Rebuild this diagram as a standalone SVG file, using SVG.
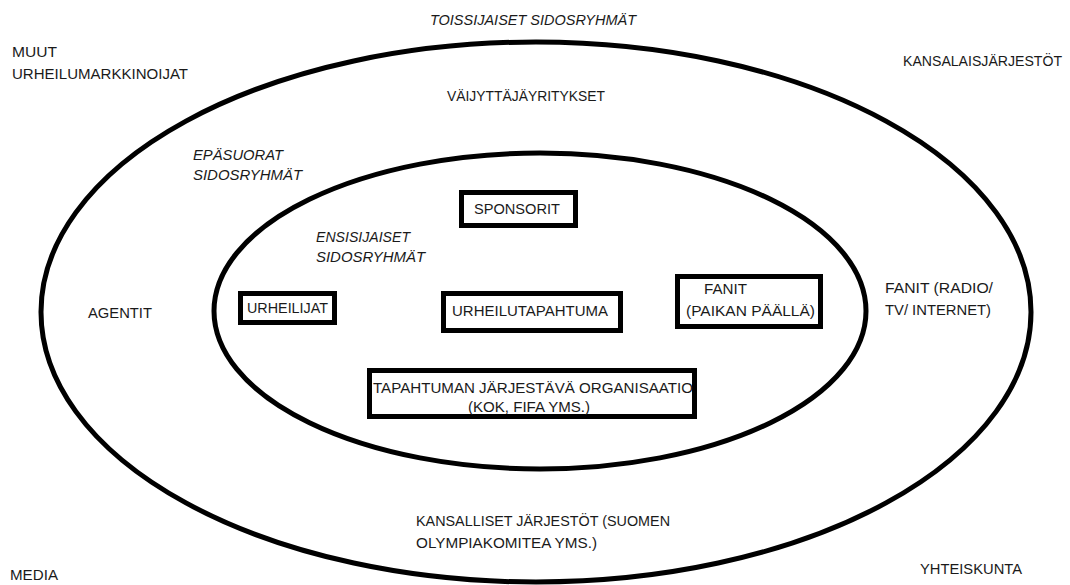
<svg xmlns="http://www.w3.org/2000/svg" width="1070" height="585" viewBox="0 0 1070 585">
<style>
text{font-family:"Liberation Sans",Arial,sans-serif;font-size:15px;fill:#1a1a1a}
.it{font-style:italic}
.ring{fill:none;stroke:#000;stroke-width:5}
.box{fill:#fff;stroke:#000;stroke-width:5}
</style>
<rect width="1070" height="585" fill="#fff"/>
<g id="outer-ring"><ellipse class="ring" cx="536" cy="312" rx="495" ry="270"/></g>
<g id="inner-ring"><ellipse class="ring" cx="540" cy="311" rx="326" ry="158"/></g>
<g id="connectors"></g>
<g id="toissijaiset"><text class="it" x="430" y="25" textLength="206" lengthAdjust="spacingAndGlyphs">TOISSIJAISET SIDOSRYHMÄT</text></g>
<g id="muut"><text x="12" y="57" textLength="45" lengthAdjust="spacingAndGlyphs">MUUT</text><text x="12" y="79" textLength="176" lengthAdjust="spacingAndGlyphs">URHEILUMARKKINOIJAT</text></g>
<g id="vaijyttaja"><text x="447" y="101" textLength="158" lengthAdjust="spacingAndGlyphs">VÄIJYTTÄJÄYRITYKSET</text></g>
<g id="kansalais"><text x="903" y="66" style="font-size:14px" textLength="159" lengthAdjust="spacingAndGlyphs">KANSALAISJÄRJESTÖT</text></g>
<g id="epasuorat"><text class="it" x="193" y="160" textLength="90" lengthAdjust="spacingAndGlyphs">EPÄSUORAT</text><text class="it" x="193" y="180" textLength="109" lengthAdjust="spacingAndGlyphs">SIDOSRYHMÄT</text></g>
<g id="ensisijaiset"><text class="it" x="316" y="242" textLength="94" lengthAdjust="spacingAndGlyphs">ENSISIJAISET</text><text class="it" x="316" y="262" textLength="109" lengthAdjust="spacingAndGlyphs">SIDOSRYHMÄT</text></g>
<g id="agentit"><text x="88" y="318" textLength="64" lengthAdjust="spacingAndGlyphs">AGENTIT</text></g>
<g id="fanit-media"><text x="885" y="293" textLength="108" lengthAdjust="spacingAndGlyphs">FANIT (RADIO/</text><text x="885" y="315" textLength="106" lengthAdjust="spacingAndGlyphs">TV/ INTERNET)</text></g>
<g id="kansalliset"><text x="416" y="526" textLength="254" lengthAdjust="spacingAndGlyphs">KANSALLISET JÄRJESTÖT (SUOMEN</text><text x="416" y="548" textLength="181" lengthAdjust="spacingAndGlyphs">OLYMPIAKOMITEA YMS.)</text></g>
<g id="media"><text x="10" y="580" textLength="48" lengthAdjust="spacingAndGlyphs">MEDIA</text></g>
<g id="yhteiskunta"><text x="920" y="574" textLength="102" lengthAdjust="spacingAndGlyphs">YHTEISKUNTA</text></g>
<g id="sponsorit"><rect class="box" x="461.5" y="192.5" width="114" height="33"/><text x="474" y="214" textLength="86" lengthAdjust="spacingAndGlyphs">SPONSORIT</text></g>
<g id="urheilijat"><rect class="box" x="240.5" y="293.5" width="94" height="29"/><text x="247" y="313" textLength="81" lengthAdjust="spacingAndGlyphs">URHEILIJAT</text></g>
<g id="urheilutapahtuma"><rect class="box" x="443.5" y="293.5" width="177" height="37"/><text x="452" y="316" textLength="156" lengthAdjust="spacingAndGlyphs">URHEILUTAPAHTUMA</text></g>
<g id="fanit-paikan"><rect class="box" x="677.5" y="276.5" width="143" height="50"/><text x="704" y="294" textLength="43" lengthAdjust="spacingAndGlyphs">FANIT</text><text x="686" y="316" textLength="129" lengthAdjust="spacingAndGlyphs">(PAIKAN PÄÄLLÄ)</text></g>
<g id="organisaatio"><rect class="box" x="369.5" y="370.5" width="325" height="46"/><text x="373" y="393" textLength="320" lengthAdjust="spacingAndGlyphs">TAPAHTUMAN JÄRJESTÄVÄ ORGANISAATIO</text><text x="468" y="412" textLength="122" lengthAdjust="spacingAndGlyphs">(KOK, FIFA YMS.)</text></g>
</svg>
